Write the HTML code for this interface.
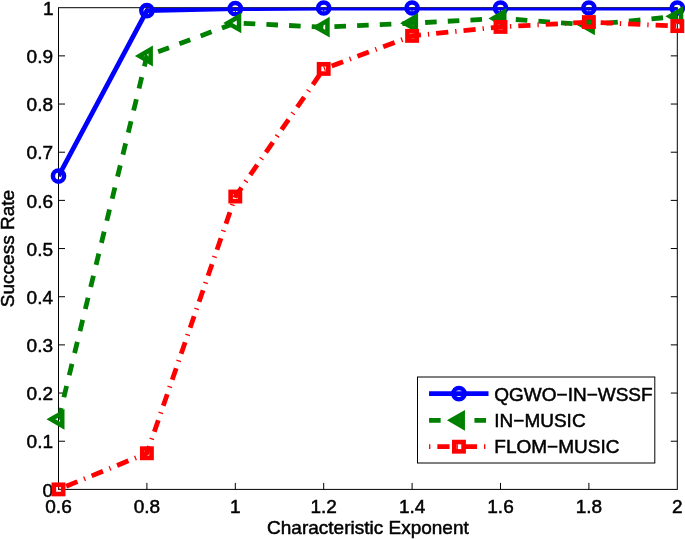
<!DOCTYPE html>
<html>
<head>
<meta charset="utf-8">
<title>Success Rate vs Characteristic Exponent</title>
<style>
html,body{margin:0;padding:0;background:#fff;overflow:hidden;}
svg{display:block;}
text{font-family:"Liberation Sans",sans-serif;font-size:19px;fill:#000;stroke:#000;stroke-width:0.5px;}
.ax{stroke:#000;stroke-width:1;fill:none;}
.b{stroke:#0000ff;stroke-width:4.8;fill:none;}
.g{stroke:#008000;stroke-width:4.8;fill:none;stroke-miterlimit:2;}
.r{stroke:#ff0000;stroke-width:4.8;fill:none;}
.bm{stroke-width:4.5;}
.gm{stroke-width:4.5;stroke-miterlimit:4;}
.rm{stroke-width:4.6;}
</style>
</head>
<body>
<svg width="685" height="539" viewBox="0 0 685 539">
<defs><clipPath id="box"><rect x="58.50" y="7.70" width="618.80" height="481.70"/></clipPath></defs>
<rect x="0" y="0" width="685" height="539" fill="#fff"/>
<rect class="ax" x="58.50" y="7.70" width="618.80" height="481.70"/>
<text x="58.50" y="512.50" text-anchor="middle">0.6</text>
<path class="ax" d="M146.90 489.40V482.90M146.90 7.70V14.20"/>
<text x="146.90" y="512.50" text-anchor="middle">0.8</text>
<path class="ax" d="M235.30 489.40V482.90M235.30 7.70V14.20"/>
<text x="235.30" y="512.50" text-anchor="middle">1</text>
<path class="ax" d="M323.70 489.40V482.90M323.70 7.70V14.20"/>
<text x="323.70" y="512.50" text-anchor="middle">1.2</text>
<path class="ax" d="M412.10 489.40V482.90M412.10 7.70V14.20"/>
<text x="412.10" y="512.50" text-anchor="middle">1.4</text>
<path class="ax" d="M500.50 489.40V482.90M500.50 7.70V14.20"/>
<text x="500.50" y="512.50" text-anchor="middle">1.6</text>
<path class="ax" d="M588.90 489.40V482.90M588.90 7.70V14.20"/>
<text x="588.90" y="512.50" text-anchor="middle">1.8</text>
<text x="677.30" y="512.50" text-anchor="middle">2</text>
<text x="53.00" y="496.60" text-anchor="end">0</text>
<path class="ax" d="M58.50 441.23H65.00M677.30 441.23H670.80"/>
<text x="53.00" y="448.43" text-anchor="end">0.1</text>
<path class="ax" d="M58.50 393.06H65.00M677.30 393.06H670.80"/>
<text x="53.00" y="400.26" text-anchor="end">0.2</text>
<path class="ax" d="M58.50 344.89H65.00M677.30 344.89H670.80"/>
<text x="53.00" y="352.09" text-anchor="end">0.3</text>
<path class="ax" d="M58.50 296.72H65.00M677.30 296.72H670.80"/>
<text x="53.00" y="303.92" text-anchor="end">0.4</text>
<path class="ax" d="M58.50 248.55H65.00M677.30 248.55H670.80"/>
<text x="53.00" y="255.75" text-anchor="end">0.5</text>
<path class="ax" d="M58.50 200.38H65.00M677.30 200.38H670.80"/>
<text x="53.00" y="207.58" text-anchor="end">0.6</text>
<path class="ax" d="M58.50 152.21H65.00M677.30 152.21H670.80"/>
<text x="53.00" y="159.41" text-anchor="end">0.7</text>
<path class="ax" d="M58.50 104.04H65.00M677.30 104.04H670.80"/>
<text x="53.00" y="111.24" text-anchor="end">0.8</text>
<path class="ax" d="M58.50 55.87H65.00M677.30 55.87H670.80"/>
<text x="53.00" y="63.07" text-anchor="end">0.9</text>
<text x="53.60" y="14.90" text-anchor="end">1</text>
<text x="367.90" y="534.40" text-anchor="middle">Characteristic Exponent</text>
<text transform="translate(14.30,248.55) rotate(-90)" text-anchor="middle">Success Rate</text>
<g clip-path="url(#box)"><polyline class="b" points="58.50,176.05 146.90,10.59 235.30,8.66 323.70,8.18 412.10,8.04 500.50,8.04 588.90,8.04 677.30,8.04" stroke-linejoin="round"/></g>
<circle class="b bm" cx="58.50" cy="176.05" r="5.6"/>
<circle class="b bm" cx="146.90" cy="10.59" r="5.6"/>
<circle class="b bm" cx="235.30" cy="8.66" r="5.6"/>
<circle class="b bm" cx="323.70" cy="7.99" r="5.6"/>
<circle class="b bm" cx="412.10" cy="7.99" r="5.6"/>
<circle class="b bm" cx="500.50" cy="7.99" r="5.6"/>
<circle class="b bm" cx="588.90" cy="7.99" r="5.6"/>
<circle class="b bm" cx="677.30" cy="7.99" r="5.6"/>
<g clip-path="url(#box)"><polyline class="g" points="58.50,419.31 146.90,56.01 235.30,22.97 323.70,27.16 412.10,23.21 500.50,18.39 588.90,24.90 677.30,16.37" stroke-dasharray="11.6 11.1" stroke-linejoin="round"/></g>
<polygon class="g gm" points="51.00,419.31 62.25,412.81 62.25,425.81"/>
<polygon class="g gm" points="139.40,56.01 150.65,49.51 150.65,62.51"/>
<polygon class="g gm" points="227.80,22.97 239.05,16.47 239.05,29.47"/>
<polygon class="g gm" points="316.20,27.16 327.45,20.66 327.45,33.66"/>
<polygon class="g gm" points="404.60,23.21 415.85,16.71 415.85,29.71"/>
<polygon class="g gm" points="493.00,18.39 504.25,11.89 504.25,24.89"/>
<polygon class="g gm" points="581.40,24.90 592.65,18.40 592.65,31.40"/>
<polygon class="g gm" points="669.80,16.37 681.05,9.87 681.05,22.87"/>
<g clip-path="url(#box)"><polyline class="r" points="58.50,489.40 146.90,453.27 235.30,196.53 323.70,68.92 412.10,35.88 500.50,26.92 588.90,22.10 677.30,26.10" stroke-dasharray="1.3 7 12.2 7" stroke-linejoin="round"/></g>
<rect class="r rm" x="53.85" y="484.75" width="9.3" height="9.3"/>
<rect class="r rm" x="142.25" y="448.62" width="9.3" height="9.3"/>
<rect class="r rm" x="230.65" y="191.88" width="9.3" height="9.3"/>
<rect class="r rm" x="319.05" y="64.27" width="9.3" height="9.3"/>
<rect class="r rm" x="407.45" y="31.23" width="9.3" height="9.3"/>
<rect class="r rm" x="495.85" y="22.27" width="9.3" height="9.3"/>
<rect class="r rm" x="584.25" y="17.45" width="9.3" height="9.3"/>
<rect class="r rm" x="672.65" y="21.45" width="9.3" height="9.3"/>
<rect x="417.50" y="377.00" width="237.30" height="86.00" fill="#fff" stroke="#000" stroke-width="1"/>
<path class="b" d="M429.05 393.6H488.5"/>
<circle class="b bm" cx="458.95" cy="393.60" r="5.6"/>
<path class="g" d="M429.05 420.3H488.5" stroke-dasharray="11.6 11.1"/>
<polygon class="g gm" points="451.45,420.30 462.70,413.80 462.70,426.80"/>
<path class="r" d="M429.05 446.7H488.5" stroke-dasharray="1.3 7 12.2 7"/>
<rect class="r rm" x="454.30" y="442.05" width="9.3" height="9.3"/>
<text x="494.3" y="400.50">QGWO−IN−WSSF</text>
<text x="494.3" y="426.80">IN−MUSIC</text>
<text x="494.3" y="453.00">FLOM−MUSIC</text>
</svg>
</body>
</html>
